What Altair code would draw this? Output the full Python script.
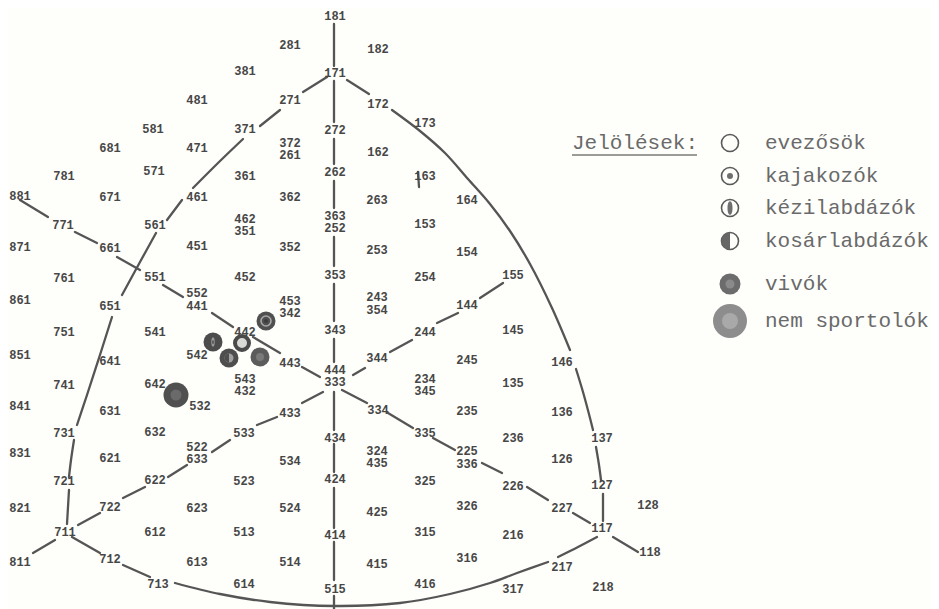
import altair as alt
import pandas as pd

# ---- somatotype labels (text, x, y in picture units) ----
label_text = [
    "181", "281", "182", "381", "171", "481", "271", "172", "173", "581", "371", "272",
    "681", "471", "372", "261", "162", "781", "571", "361", "262", "163",
    "881", "671", "461", "362", "263", "164", "771", "561", "462", "351", "363", "252", "153",
    "871", "661", "451", "352", "253", "154", "761", "551", "452", "353", "254", "155",
    "861", "651", "552", "441", "453", "342", "243", "354", "144",
    "751", "541", "442", "343", "244", "145", "851", "641", "542", "443", "444", "333", "344", "245", "146",
    "741", "642", "543", "432", "234", "345", "135", "841", "631", "532", "433", "334", "235", "136",
    "731", "632", "533", "434", "335", "236", "137", "831", "621", "522", "633", "534", "324", "435",
    "225", "336", "126", "721", "622", "523", "424", "325", "226", "127",
    "821", "722", "623", "524", "425", "326", "227", "128",
    "711", "612", "513", "414", "315", "216", "117",
    "811", "712", "613", "514", "415", "316", "217", "118",
    "713", "614", "515", "416", "317", "218",
]
label_x = [
    335, 290, 378, 245, 335, 197, 290, 378, 425, 153, 245, 335,
    110, 197, 290, 290, 378, 64, 154, 245, 335, 425,
    20, 110, 197, 290, 377, 467, 63, 155, 245, 245, 335, 335, 425,
    20, 110, 197, 290, 377, 467, 64, 155, 245, 335, 425, 513,
    20, 110, 197, 197, 290, 290, 377, 377, 467,
    64, 155, 245, 335, 425, 513, 20, 110, 197, 290, 335, 335, 377, 467, 562,
    64, 155, 245, 245, 425, 425, 513, 20, 110, 200, 290, 378, 467, 562,
    64, 155, 244, 335, 425, 513, 602, 20, 110, 197, 197, 290, 377, 377,
    467, 467, 562, 64, 155, 244, 335, 425, 513, 602,
    20, 110, 197, 290, 377, 467, 562, 648,
    65, 155, 244, 335, 425, 513, 602,
    20, 110, 197, 290, 377, 467, 562, 650,
    158, 244, 335, 425, 513, 603,
]
label_y = [
    16, 45, 49, 71, 73, 100, 100, 104, 123, 129, 129, 130,
    148, 148, 143, 155, 152, 176, 171, 176, 172, 176,
    196, 197, 197, 197, 200, 200, 225, 225, 219, 231, 216, 228, 224,
    247, 248, 246, 247, 250, 252, 278, 277, 277, 275, 277, 275,
    300, 306, 293, 306, 301, 313, 297, 310, 305,
    332, 332, 332, 330, 332, 330, 355, 361, 355, 363, 370, 382, 358, 360, 362,
    385, 384, 379, 391, 379, 391, 383, 406, 411, 406, 413, 410, 411, 412,
    433, 432, 433, 438, 433, 438, 438, 453, 458, 447, 459, 461, 451, 463,
    451, 464, 459, 481, 480, 481, 479, 481, 486, 485,
    508, 507, 508, 508, 512, 506, 508, 505,
    532, 532, 532, 535, 532, 535, 528,
    562, 559, 562, 562, 564, 558, 567, 552,
    584, 584, 589, 584, 589, 587,
]

# ---- drawn lines (polylines) ----
vertical_axis = [
    [(334, 24), (334, 66)], [(334, 81), (334, 122)], [(334, 139), (334, 164)],
    [(334, 181), (334, 208)], [(334, 237), (334, 266)], [(334, 284), (334, 321)],
    [(334, 339), (334, 362)], [(334, 392), (334, 430)], [(334, 444), (334, 472)],
    [(334, 488), (334, 528)], [(334, 542), (334, 580)], [(334, 596), (334, 612)],
]
left_arc = [
    [(327, 77), (303, 92)], [(280, 110), (260, 126)],
    [(243, 139), (218, 163), (193, 188)], [(182, 200), (167, 220)],
    [(156, 233), (140, 262), (122, 295)],
    [(112, 317), (99, 358), (87, 395), (77, 425)],
    [(74, 440), (71, 460), (69, 477)], [(69, 490), (67, 524)],
]
right_arc = [
    [(347, 80), (369, 94)],
    [(392, 110), (420, 131), (445, 153), (468, 179), (490, 204), (510, 231),
     (530, 264), (552, 308), (570, 350)],
    [(576, 369), (583, 392), (590, 418), (593, 430)],
    [(596, 447), (599, 465), (601, 480)],
    [(603, 494), (603, 521)],
]
bottom_arc = [
    [(72, 537), (100, 553)], [(123, 565), (150, 577)],
    [(175, 583), (220, 594), (270, 602), (335, 606), (400, 603), (450, 594),
     (490, 583), (517, 573), (548, 562)],
    [(558, 557), (578, 547), (597, 537)],
]
axis_881_118 = [
    [(20, 200), (48, 217)], [(75, 232), (97, 243)], [(117, 257), (140, 270)],
    [(163, 285), (183, 297)], [(212, 313), (233, 327)], [(253, 337), (280, 353)],
    [(302, 367), (320, 377)], [(342, 390), (367, 403)], [(388, 413), (413, 428)],
    [(433, 438), (455, 450)], [(482, 463), (502, 473)], [(527, 487), (548, 500)],
    [(573, 513), (590, 523)], [(613, 537), (638, 552)],
]
axis_811_155 = [
    [(33, 553), (55, 540)], [(78, 525), (100, 513)], [(123, 498), (145, 487)],
    [(168, 477), (187, 465)], [(212, 452), (230, 440)], [(257, 425), (277, 417)],
    [(302, 403), (323, 392)], [(353, 375), (365, 368)], [(390, 352), (412, 340)],
    [(437, 323), (458, 313)], [(480, 298), (503, 283)],
]
stray_marks = [[(418, 172), (419, 187)]]

# ---- group means and legend ----
groups = ["evezősök", "kajakozók", "kézilabdázók", "kosárlabdázók", "vivók", "nem sportolók"]
group_x = [242, 266, 213, 229, 260, 176]
group_y = [343, 321, 342, 358, 357, 395]
legend_title = "Jelölések:"
legend_row_y = [143, 176, 208, 241, 284, 321]
legend_symbol_x = 730
legend_text_x = 765
legend_title_x = 572

# ---------------- build tables ----------------
labels_df = pd.DataFrame({"x": label_x, "y": label_y, "t": label_text})

seg_rows = []
sid = 0
for collection in [vertical_axis, left_arc, right_arc, bottom_arc, axis_881_118, axis_811_155, stray_marks]:
    for seg in collection:
        for k, (px, py) in enumerate(seg):
            seg_rows.append({"seg": sid, "ord": k, "x": px, "y": py})
        sid += 1
seg_df = pd.DataFrame(seg_rows)

underline_df = pd.DataFrame({"seg": [0, 0], "ord": [0, 1],
                             "x": [legend_title_x, legend_title_x + 125],
                             "y": [legend_row_y[0] + 12, legend_row_y[0] + 12]})

BAND = "M0,-0.85C0.42,-0.85 0.42,0.85 0,0.85C-0.42,0.85 -0.42,-0.85 0,-0.85Z"
HALF = "M0,-1A1,1 0 0,0 0,1Z"

def prim(x, y, shape, d, fill, stroke="transparent", sw=0):
    return {"x": x, "y": y, "shape": shape, "size": d * d, "fill": fill, "stroke": stroke, "sw": sw}

sym = []
# legend symbols (light outlines)
lx = legend_symbol_x
ly = legend_row_y
sym.append(prim(lx, ly[0], "circle", 17, "transparent", "#5a5a5a", 1.6))
sym.append(prim(lx, ly[1], "circle", 17, "transparent", "#5a5a5a", 1.6))
sym.append(prim(lx, ly[1], "circle", 6, "#6f6f6f"))
sym.append(prim(lx, ly[2], "circle", 17, "transparent", "#5a5a5a", 1.6))
sym.append(prim(lx, ly[2], BAND, 16, "#6f6f6f"))
sym.append(prim(lx, ly[3], "circle", 17, "transparent", "#5a5a5a", 1.6))
sym.append(prim(lx, ly[3], HALF, 17, "#666666"))
sym.append(prim(lx, ly[4], "circle", 21, "#6c6c6c"))
sym.append(prim(lx, ly[4], "circle", 9, "#8a8a8a"))
sym.append(prim(lx, ly[5], "circle", 34, "#8d8d8d"))
sym.append(prim(lx, ly[5], "circle", 16, "#a9a9a9"))

# plotted group means (dark)
g = dict(zip(groups, zip(group_x, group_y)))
x0, y0 = g["evezősök"]
sym.append(prim(x0, y0, "circle", 14, "#d9d9d5", "#4a4a4a", 4))
x0, y0 = g["kajakozók"]
sym.append(prim(x0, y0, "circle", 19, "#505050"))
sym.append(prim(x0, y0, "circle", 10, "transparent", "#a8a8a8", 1.6))
sym.append(prim(x0, y0, "circle", 4, "#3c3c3c"))
x0, y0 = g["kézilabdázók"]
sym.append(prim(x0, y0, "circle", 19, "#4c4c4c"))
sym.append(prim(x0, y0, BAND, 11, "#9c9c9c"))
sym.append(prim(x0, y0, BAND, 5, "#4c4c4c"))
x0, y0 = g["kosárlabdázók"]
sym.append(prim(x0, y0, "circle", 19, "#4e4e4e"))
sym.append(prim(x0, y0, "circle", 9, "#a0a0a0"))
sym.append(prim(x0, y0, HALF, 9, "#4e4e4e"))
x0, y0 = g["vivók"]
sym.append(prim(x0, y0, "circle", 19, "#5c5c5c"))
sym.append(prim(x0, y0, "circle", 8, "#7a7a7a"))
x0, y0 = g["nem sportolók"]
sym.append(prim(x0, y0, "circle", 25, "#505050"))
sym.append(prim(x0, y0, "circle", 11, "#6a6a6a"))
sym_df = pd.DataFrame(sym)

legend_df = pd.DataFrame({
    "x": [legend_title_x] + [legend_text_x] * len(groups),
    "y": [legend_row_y[0]] + legend_row_y,
    "t": [legend_title] + groups,
})

# ---------------- chart ----------------
XS = alt.Scale(domain=[8, 931], nice=False, zero=False)
YS = alt.Scale(domain=[8, 609], nice=False, zero=False, reverse=True)

def xy():
    return dict(x=alt.X("x:Q", scale=XS, axis=None), y=alt.Y("y:Q", scale=YS, axis=None))

lines = alt.Chart(seg_df).mark_line(
    stroke="#555555", strokeWidth=2.3, interpolate="catmull-rom", strokeCap="round"
).encode(**xy(), detail="seg:N", order="ord:Q")

underline = alt.Chart(underline_df).mark_line(stroke="#7a7a7a", strokeWidth=1.3).encode(
    **xy(), detail="seg:N", order="ord:Q")

labels = alt.Chart(labels_df).mark_text(
    font="Liberation Mono", fontWeight="bold", fontSize=12, fill="#474747",
    align="center", baseline="middle"
).encode(**xy(), text="t:N")

symbols = alt.Chart(sym_df).mark_point(filled=True, opacity=1).encode(
    **xy(),
    shape=alt.Shape("shape:N", scale=None),
    size=alt.Size("size:Q", scale=None),
    fill=alt.Fill("fill:N", scale=None),
    stroke=alt.Stroke("stroke:N", scale=None),
    strokeWidth=alt.StrokeWidth("sw:Q", scale=None),
)

legend_text = alt.Chart(legend_df).mark_text(
    font="Liberation Mono", fontSize=21, fill="#6a6a6a", align="left", baseline="middle"
).encode(**xy(), text="t:N")

chart = alt.layer(lines, underline, labels, symbols, legend_text).properties(
    width=923, height=601, padding=0,
    autosize=alt.AutoSizeParams(type="none"),
    background="#fefefb",
).configure_view(stroke=None)

chart.save("out.html", embed_options={"renderer": "svg", "actions": False})
